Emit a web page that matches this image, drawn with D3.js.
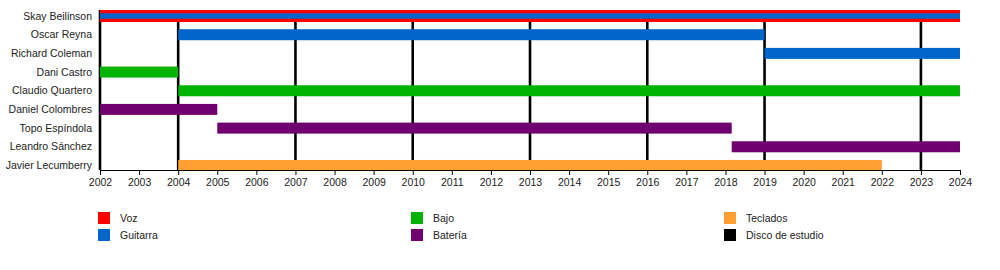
<!DOCTYPE html>
<html>
<head>
<meta charset="utf-8">
<script src="https://cdn.jsdelivr.net/npm/d3@7"></script>
<style>
	body { margin: 0; background: #fff; }
	svg text { font-family: "Liberation Sans", Arial, sans-serif; fill: #222; }
</style>
</head>
<body>
<svg id="chart" width="1000" height="270"></svg>
<script>
(function(d3) {
	'use strict';

	/** data */
	var members = ['Skay Beilinson', 'Oscar Reyna', 'Richard Coleman', 'Dani Castro', 'Claudio Quartero',
		'Daniel Colombres', 'Topo Espíndola', 'Leandro Sánchez', 'Javier Lecumberry'];
	var barMembers = ['Skay Beilinson', 'Oscar Reyna', 'Richard Coleman', 'Dani Castro', 'Claudio Quartero',
		'Daniel Colombres', 'Topo Espíndola', 'Leandro Sánchez', 'Javier Lecumberry'];
	var barStarts = [2002, 2004, 2019, 2002, 2004, 2002, 2005, 2018.16, 2004];
	var barEnds = [2024, 2019, 2024, 2004, 2024, 2005, 2018.16, 2024, 2022];
	var barRoles = ['Voz', 'Guitarra', 'Guitarra', 'Bajo', 'Bajo', 'Batería', 'Batería', 'Batería', 'Teclados'];
	// Skay also plays guitar: thin stripe inside the vocal bar
	var stripeMembers = ['Skay Beilinson'];
	var stripeStarts = [2002];
	var stripeEnds = [2024];
	var stripeRoles = ['Guitarra'];
	var albumYears = [2002, 2004, 2007, 2010, 2013, 2016, 2019, 2023];
	var tickYears = d3.range(2002, 2025);
	var roles = ['Voz', 'Guitarra', 'Bajo', 'Batería', 'Teclados', 'Disco de estudio'];
	var roleColors = ['#ff0000', '#0066cc', '#00b300', '#700070', '#ffa030', '#000000'];

	var svg = d3.select('#chart');
	var color = d3.scaleOrdinal().domain(roles).range(roleColors);
	var x = d3.scaleLinear().domain([2002, 2024]).range([100, 960]);
	var y = d3.scaleBand().domain(members).range([6.7, 174.8]);
	var plotTop = 10, plotBottom = 170;
	var barHeight = 11;

	/** album lines */
	svg.append('g').selectAll('line').data(albumYears).enter().append('line')
		.attr('x1', x).attr('x2', x)
		.attr('y1', plotTop).attr('y2', plotBottom)
		.attr('stroke', color('Disco de estudio')).attr('stroke-width', 2.6);

	/** bars */
	var bars = barMembers.map(function(m, i) {
		return { member: m, start: barStarts[i], end: barEnds[i], role: barRoles[i] };
	});
	var barCenter = function(d) { return y(d.member) + y.bandwidth() / 2; };
	svg.append('g').selectAll('rect').data(bars).enter().append('rect')
		.attr('x', function(d) { return x(d.start); })
		.attr('width', function(d) { return x(d.end) - x(d.start); })
		.attr('y', function(d) { return barCenter(d) - (d.role === 'Voz' ? 6 : barHeight / 2); })
		.attr('height', function(d) { return d.role === 'Voz' ? 12 : barHeight; })
		.attr('fill', function(d) { return color(d.role); });

	var stripes = stripeMembers.map(function(m, i) {
		return { member: m, start: stripeStarts[i], end: stripeEnds[i], role: stripeRoles[i] };
	});
	svg.append('g').selectAll('rect').data(stripes).enter().append('rect')
		.attr('x', function(d) { return x(d.start); })
		.attr('width', function(d) { return x(d.end) - x(d.start); })
		.attr('y', function(d) { return barCenter(d) - 2.7; })
		.attr('height', 5.4)
		.attr('fill', function(d) { return color(d.role); });

	/** member labels */
	svg.append('g').selectAll('text').data(members).enter().append('text')
		.attr('x', 92)
		.attr('y', function(m) { return y(m) + y.bandwidth() / 2; })
		.attr('dy', '0.35em')
		.attr('text-anchor', 'end')
		.attr('font-size', 10.5)
		.text(function(m) { return m; });

	/** axis */
	var axis = d3.axisBottom(x).tickValues(tickYears).tickFormat(d3.format('d')).tickSize(5).tickPadding(4);
	var gAxis = svg.append('g').attr('transform', 'translate(0,' + plotBottom + ')').call(axis);
	gAxis.select('.domain').attr('stroke', '#000').attr('d', 'M100.5,0.5H960.5');
	gAxis.selectAll('.tick line').attr('stroke', '#000');
	gAxis.selectAll('text').attr('font-size', 10.5).attr('font-family', '"Liberation Sans", Arial, sans-serif').attr('fill', '#222');

	/** legend */
	var legendX = [98, 411, 724];
	var legendY = [212, 229];
	var legend = svg.append('g').selectAll('g').data(roles).enter().append('g')
		.attr('transform', function(r, i) {
			return 'translate(' + legendX[Math.floor(i / 2)] + ',' + legendY[i % 2] + ')';
		});
	legend.append('rect').attr('width', 12).attr('height', 12).attr('fill', color);
	legend.append('text').attr('x', 22).attr('y', 6).attr('dy', '0.35em')
		.attr('font-size', 10.5)
		.text(function(r) { return r; });
})(d3);
</script>
</body>
</html>
